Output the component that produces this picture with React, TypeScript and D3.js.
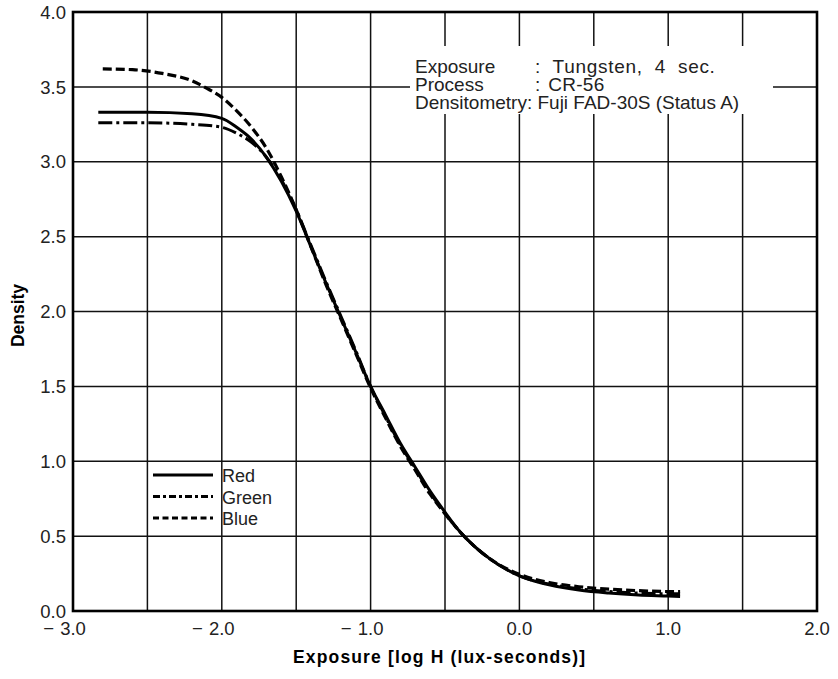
import React from "react";
import * as d3 from "d3";

const redLogH = [-2.83, -2.5, -2.2, -2.0, -1.9, -1.8, -1.7, -1.6, -1.5, -1.4, -1.3, -1.2, -1.1, -1.0, -0.9, -0.8, -0.7, -0.6, -0.5, -0.4, -0.3, -0.2, -0.1, 0, 0.1, 0.2, 0.4, 0.6, 0.8, 1.0, 1.08];
const redDensity = [3.33, 3.33, 3.32, 3.29, 3.23, 3.15, 3.03, 2.87, 2.67, 2.43, 2.19, 1.96, 1.73, 1.5, 1.31, 1.12, 0.96, 0.8, 0.66, 0.53, 0.43, 0.35, 0.285, 0.235, 0.2, 0.175, 0.14, 0.12, 0.107, 0.1, 0.097];

const greenLogH = [-2.83, -2.5, -2.2, -2.0, -1.9, -1.8, -1.7, -1.6, -1.5, -1.4, -1.3, -1.2, -1.1, -1.0, -0.9, -0.8, -0.7, -0.6, -0.5, -0.4, -0.3, -0.2, -0.1, 0, 0.1, 0.2, 0.4, 0.6, 0.8, 1.0, 1.08];
const greenDensity = [3.26, 3.26, 3.25, 3.23, 3.19, 3.13, 3.03, 2.88, 2.68, 2.44, 2.2, 1.97, 1.74, 1.5, 1.3, 1.11, 0.95, 0.79, 0.65, 0.53, 0.43, 0.35, 0.285, 0.235, 0.202, 0.18, 0.148, 0.13, 0.12, 0.115, 0.115];

const blueLogH = [-2.8, -2.6, -2.4, -2.2, -2.1, -2.0, -1.9, -1.8, -1.7, -1.6, -1.5, -1.4, -1.3, -1.2, -1.1, -1.0, -0.9, -0.8, -0.7, -0.6, -0.5, -0.4, -0.3, -0.2, -0.1, 0, 0.1, 0.2, 0.4, 0.6, 0.8, 1.0, 1.08];
const blueDensity = [3.62, 3.615, 3.59, 3.54, 3.49, 3.43, 3.34, 3.23, 3.09, 2.9, 2.68, 2.43, 2.18, 1.95, 1.72, 1.49, 1.29, 1.1, 0.94, 0.78, 0.65, 0.53, 0.43, 0.35, 0.29, 0.245, 0.212, 0.19, 0.162, 0.146, 0.136, 0.13, 0.13];

const xTicks = [-3, -2, -1, 0, 1, 2];
const yTicks = [0, 0.5, 1, 1.5, 2, 2.5, 3, 3.5, 4];
const xGrid = [-2.5, -2, -1.5, -1, -0.5, 0, 0.5, 1, 1.5];
const yGrid = [0.5, 1, 1.5, 2, 2.5, 3, 3.5];

const legendNames = ["Red", "Green", "Blue"];
const noteLabels = ["Exposure", "Process"];
const noteValues = [": Tungsten, 4 sec.", ": CR-56"];
const noteLine3 = "Densitometry: Fuji FAD-30S (Status A)";

const W = 838;
const H = 679;
const left = 73, right = 817, top = 12, bottom = 611;

export default function App() {
  const x = d3.scaleLinear().domain([-3, 2]).range([left, right]);
  const y = d3.scaleLinear().domain([0, 4]).range([bottom, top]);
  const fmt = d3.format(".1f");

  const line = d3
    .line<[number, number]>()
    .x((d) => x(d[0]))
    .y((d) => y(d[1]))
    .curve(d3.curveMonotoneX);

  const series = [
    { name: "Red", xs: redLogH, ys: redDensity, dash: "none", w: 3 },
    { name: "Green", xs: greenLogH, ys: greenDensity, dash: "14,4,3,4", w: 3 },
    { name: "Blue", xs: blueLogH, ys: blueDensity, dash: "9,4", w: 3.2 },
  ];

  // annotation box (gap in grid)
  const gapX0 = 410, gapX1 = 773, gapY0 = 46, gapY1 = 114;
  const font = "'Liberation Sans', Arial, Helvetica, sans-serif";
  const noteY0 = 73, noteDy = 18;

  return (
    <svg
      width={W}
      height={H}
      style={{ position: "absolute", left: 0, top: 0, background: "#fff" }}
      fontFamily={font}
    >
      <rect x={0} y={0} width={W} height={H} fill="#fff" />
      {/* vertical grid */}
      {xGrid.map((v) => {
        const px = x(v);
        if (px > gapX0 && px < gapX1) {
          return (
            <g key={"vx" + v}>
              <line x1={px} x2={px} y1={top} y2={gapY0} stroke="#111" strokeWidth={1.5} />
              <line x1={px} x2={px} y1={gapY1} y2={bottom} stroke="#111" strokeWidth={1.5} />
            </g>
          );
        }
        return <line key={"vx" + v} x1={px} x2={px} y1={top} y2={bottom} stroke="#111" strokeWidth={1.5} />;
      })}
      {/* horizontal grid */}
      {yGrid.map((v) => {
        const py = y(v);
        if (py > gapY0 && py < gapY1) {
          return (
            <g key={"hy" + v}>
              <line x1={left} x2={gapX0} y1={py} y2={py} stroke="#111" strokeWidth={1.5} />
              <line x1={gapX1} x2={right} y1={py} y2={py} stroke="#111" strokeWidth={1.5} />
            </g>
          );
        }
        return <line key={"hy" + v} x1={left} x2={right} y1={py} y2={py} stroke="#111" strokeWidth={1.5} />;
      })}
      {/* frame */}
      <rect x={left} y={top} width={right - left} height={bottom - top} fill="none" stroke="#000" strokeWidth={2.6} />

      {/* curves */}
      {series.map((s) => (
        <path
          key={s.name}
          d={line(s.xs.map((v, i) => [v, s.ys[i]] as [number, number])) || ""}
          fill="none"
          stroke="#000"
          strokeWidth={s.w}
          strokeDasharray={s.dash}
          strokeLinecap="butt"
        />
      ))}

      {/* y tick labels */}
      {yTicks.map((v) => (
        <text key={"yt" + v} x={66} y={y(v)} dy="0.36em" textAnchor="end" fontSize={18.5} fill="#222">
          {fmt(v)}
        </text>
      ))}
      {/* x tick labels */}
      {xTicks.map((v) => (
        <g key={"xt" + v}>
          <text x={x(v)} y={bottom + 24} textAnchor="middle" fontSize={18.5} fill="#222">
            {fmt(Math.abs(v))}
          </text>
          {v < 0 && (
            <text x={x(v) - 19} y={bottom + 24} textAnchor="end" fontSize={18.5} fill="#222">
              {"\u2212"}
            </text>
          )}
        </g>
      ))}

      {/* axis titles */}
      <text
        transform={`translate(24, ${(top + bottom) / 2 + 4}) rotate(-90)`}
        textAnchor="middle"
        fontSize={17.5}
        fontWeight="bold"
        fill="#000"
      >
        Density
      </text>
      <text x={293} y={663} fontSize={17.5} fontWeight="bold" fill="#000" textLength={292} lengthAdjust="spacing">
        Exposure [log H (lux-seconds)]
      </text>

      {/* annotation */}
      {noteLabels.map((lab, i) => (
        <g key={lab}>
          <text x={415} y={noteY0 + i * noteDy} fontSize={19} fill="#222">
            {lab}
          </text>
          <text
            x={535}
            y={noteY0 + i * noteDy}
            fontSize={19}
            fill="#222"
            style={{ wordSpacing: i === 0 ? "6px" : "2px", letterSpacing: i === 0 ? "0.7px" : "0.3px" }}
          >
            {noteValues[i]}
          </text>
        </g>
      ))}
      <text x={415} y={noteY0 + 2 * noteDy} fontSize={19} fill="#222">
        {noteLine3}
      </text>

      {/* legend */}
      {legendNames.map((n, i) => {
        const ly = 475 + i * 21.5;
        return (
          <g key={"lg" + n}>
            <line
              x1={153}
              x2={213}
              y1={ly}
              y2={ly}
              stroke="#000"
              strokeWidth={3}
              strokeDasharray={i === 1 ? "7,3,3,3" : i === 2 ? "6,3.5" : "none"}
            />
            <text x={222} y={ly + 7} fontSize={18} fill="#222">
              {n}
            </text>
          </g>
        );
      })}
    </svg>
  );
}
